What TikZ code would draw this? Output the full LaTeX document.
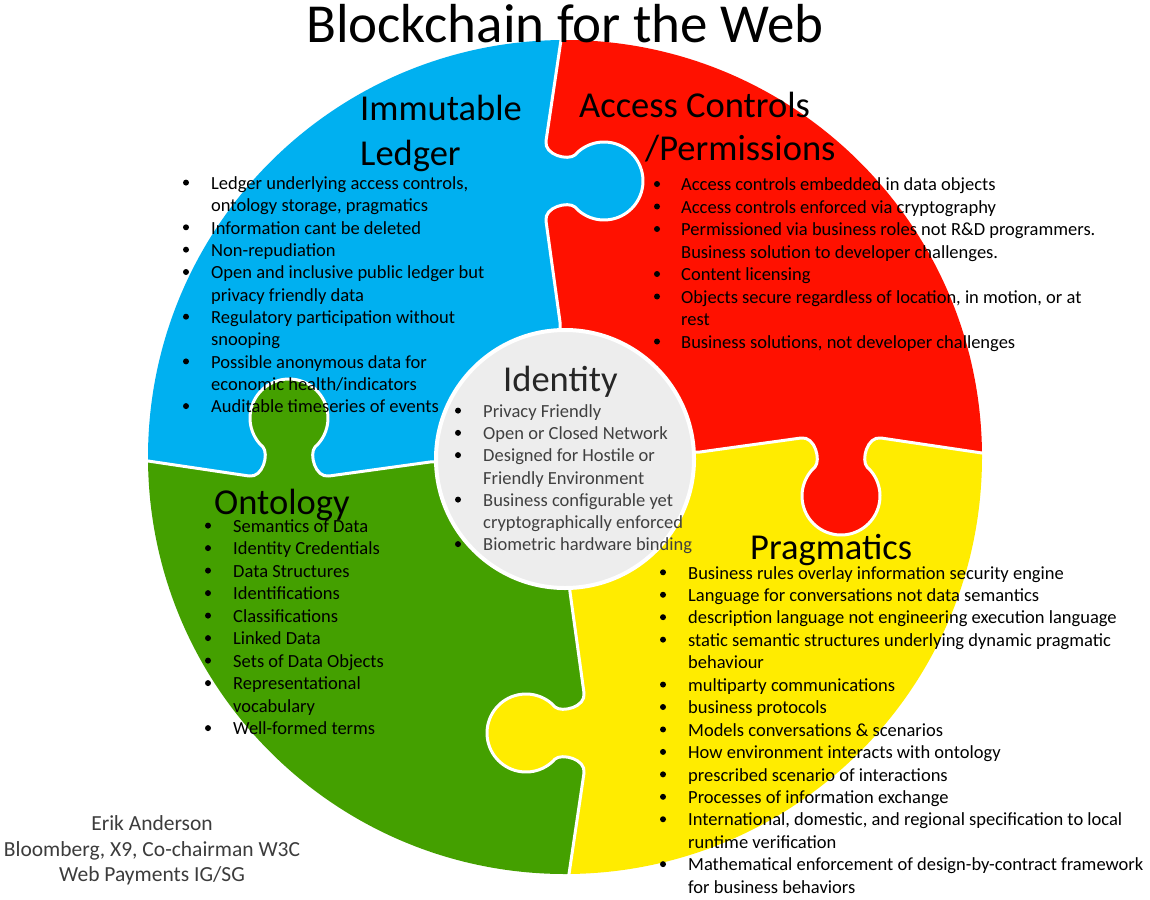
\documentclass[tikz,border=0pt]{standalone}
\usepackage{fontspec}
\setmainfont{Carlito}
\definecolor{pblue}{RGB}{0,176,240}
\definecolor{pred}{RGB}{255,17,0}
\definecolor{pyellow}{RGB}{255,236,0}
\definecolor{pgreen}{RGB}{68,160,0}
\definecolor{idfill}{RGB}{237,237,237}
\definecolor{idtext}{RGB}{64,64,64}
\definecolor{idhead}{RGB}{38,38,38}
\definecolor{credtext}{RGB}{60,60,60}

% One puzzle seam in its own frame: u runs outward from the centre,
% v points the way the tab sticks out.
\newcommand\seamcore{(0,0) -- (135,-5) -- (236,-19)
  .. controls (250,-21) and (256,3) .. (250,10)
  -- plot[domain=228.1:-48.1, samples=60] ({276+39*cos(\x)},{39+39*sin(\x)})
  .. controls (296,3) and (302,-21) .. (316,-19) -- (417,-4) -- (440,-1)}

% Lines of a text block, one node per line
\newcommand\textlines[6]{%
  \foreach \thistext [count=\k from 0] in {#6}
    {\node[bd,#2] (#1-\k) at (#3, #4+#5*\k) {\thistext};}}
% Bullets of a text block
\newcommand\bulletdots[5]{%
  \foreach \k in {#5} {\fill[#1] (#2, #3+#4*\k-6.7) circle[radius=3];}}

\begin{document}
\begin{tikzpicture}[x=1pt,y=-1pt,
  fr top/.style={shift={(565pt,-457pt)}, x={(0pt,1pt)}, y={(1pt,0pt)}},
  fr right/.style={shift={(565pt,-457pt)}, x={(1pt,0pt)}, y={(0pt,-1pt)}},
  fr bottom/.style={shift={(565pt,-457pt)}, x={(0pt,-1pt)}, y={(-1pt,0pt)}},
  fr left/.style={shift={(565pt,-457pt)}, x={(-1pt,0pt)}, y={(0pt,1pt)}},
  seamline/.style={draw=white, line width=3pt, line join=round, line cap=round},
  ttl/.style={font=\fontsize{55}{66}\selectfont, inner sep=0pt, anchor=base west},
  hd/.style={font=\fontsize{36.5}{44}\selectfont, inner sep=0pt, anchor=base west},
  bd/.style={font=\fontsize{18.5}{22.5}\selectfont, inner sep=0pt, anchor=base west},
  cr/.style={font=\fontsize{21.5}{26}\selectfont, inner sep=0pt, anchor=base, text=credtext}]

\useasboundingbox (0,0) rectangle (1150,899);
\fill[white] (0,0) rectangle (1150,899);

% ---- the four puzzle pieces ----
\begin{scope}
  \clip (565,457) circle[radius=417];
  \clip[fr top] \seamcore -- (600,0) -- (600,600) -- (-600,600) -- (-600,0) -- cycle;
  \clip[fr right] \seamcore -- (600,0) -- (600,-600) -- (-600,-600) -- (-600,0) -- cycle;
  \fill[pred] (0,0) rectangle (1150,899);
\end{scope}
\begin{scope}
  \clip (565,457) circle[radius=417];
  \clip[fr right] \seamcore -- (600,0) -- (600,600) -- (-600,600) -- (-600,0) -- cycle;
  \clip[fr bottom] \seamcore -- (600,0) -- (600,-600) -- (-600,-600) -- (-600,0) -- cycle;
  \fill[pyellow] (0,0) rectangle (1150,899);
\end{scope}
\begin{scope}
  \clip (565,457) circle[radius=417];
  \clip[fr bottom] \seamcore -- (600,0) -- (600,600) -- (-600,600) -- (-600,0) -- cycle;
  \clip[fr left] \seamcore -- (600,0) -- (600,-600) -- (-600,-600) -- (-600,0) -- cycle;
  \fill[pgreen] (0,0) rectangle (1150,899);
\end{scope}
\begin{scope}
  \clip (565,457) circle[radius=417];
  \clip[fr left] \seamcore -- (600,0) -- (600,600) -- (-600,600) -- (-600,0) -- cycle;
  \clip[fr top] \seamcore -- (600,0) -- (600,-600) -- (-600,-600) -- (-600,0) -- cycle;
  \fill[pblue] (0,0) rectangle (1150,899);
\end{scope}

% white seams between the pieces
\begin{scope}
  \clip (565,457) circle[radius=417];
  \path[seamline, fr top] \seamcore;
  \path[seamline, fr right] \seamcore;
  \path[seamline, fr bottom] \seamcore;
  \path[seamline, fr left] \seamcore;
\end{scope}

% centre disc
\node[circle, minimum size=258pt, inner sep=0pt, fill=idfill, draw=white, line width=4pt]
  (idcircle) at (565,459) {};

% ---- title ----
\node[ttl] (title) at (306,42) {Blockchain for the Web};

% ---- Immutable Ledger ----
\node[hd] (ledger-h1) at (360,120.7) {Immutable};
\node[hd] (ledger-h2) at (360,165) {Ledger};
\textlines{ledger}{}{211}{189.3}{22.35}{{Ledger underlying access controls,},{ontology storage, pragmatics},
  Information cant be deleted,Non-repudiation,Open and inclusive public ledger but,
  privacy friendly data,Regulatory participation without,snooping,Possible anonymous data for,
  economic health/indicators,Auditable timeseries of events}
\bulletdots{black}{186}{189.3}{22.35}{0,2,3,4,6,8,10}

% ---- Access Controls / Permissions ----
\node[hd] (access-h1) at (579,117.3) {Access Controls};
\node[hd] (access-h2) at (645,160.7) {/Permissions};
\textlines{access}{}{681}{190.7}{22.5}{Access controls embedded in data objects,
  Access controls enforced via cryptography,Permissioned via business roles not R\&D programmers.,
  Business solution to developer challenges.,Content licensing,
  {Objects secure regardless of location, in motion, or at},rest,
  {Business solutions, not developer challenges}}
\bulletdots{black}{657}{190.7}{22.5}{0,1,2,4,5,7}

% ---- Identity ----
\node[hd, text=idhead] (identity-h) at (503,391.7) {Identity};
\textlines{identity}{text=idtext}{483}{417.3}{22.25}{Privacy Friendly,Open or Closed Network,
  Designed for Hostile or,Friendly Environment,Business configurable yet,
  cryptographically enforced,Biometric hardware binding}
\bulletdots{black}{458}{417.3}{22.25}{0,1,2,4,6}

% ---- Ontology ----
\node[hd] (ontology-h) at (214,514) {Ontology};
\textlines{ontology}{}{233}{532.3}{22.5}{Semantics of Data,Identity Credentials,Data Structures,
  Identifications,Classifications,Linked Data,Sets of Data Objects,Representational,
  vocabulary,Well-formed terms}
\bulletdots{black}{208}{532.3}{22.5}{0,1,2,3,4,5,6,7,9}

% ---- Pragmatics ----
\node[hd] (pragmatics-h) at (750,559.3) {Pragmatics};
\textlines{pragmatics}{}{688}{579}{22.45}{Business rules overlay information security engine,
  Language for conversations not data semantics,
  description language not engineering execution language,
  static semantic structures underlying dynamic pragmatic,behaviour,
  multiparty communications,business protocols,Models conversations \& scenarios,
  How environment interacts with ontology,prescribed scenario of interactions,
  Processes of information exchange,
  {International, domestic, and regional specification to local},runtime verification,
  Mathematical enforcement of design-by-contract framework,for business behaviors}
\bulletdots{black}{663}{579}{22.45}{0,1,2,3,5,6,7,8,9,10,11,13}

% ---- author ----
\node[cr] (author-1) at (152,830.7) {Erik Anderson};
\node[cr] (author-2) at (152,856) {Bloomberg, X9, Co-chairman W3C};
\node[cr] (author-3) at (152,881.7) {Web Payments IG/SG};
\end{tikzpicture}
\end{document}
